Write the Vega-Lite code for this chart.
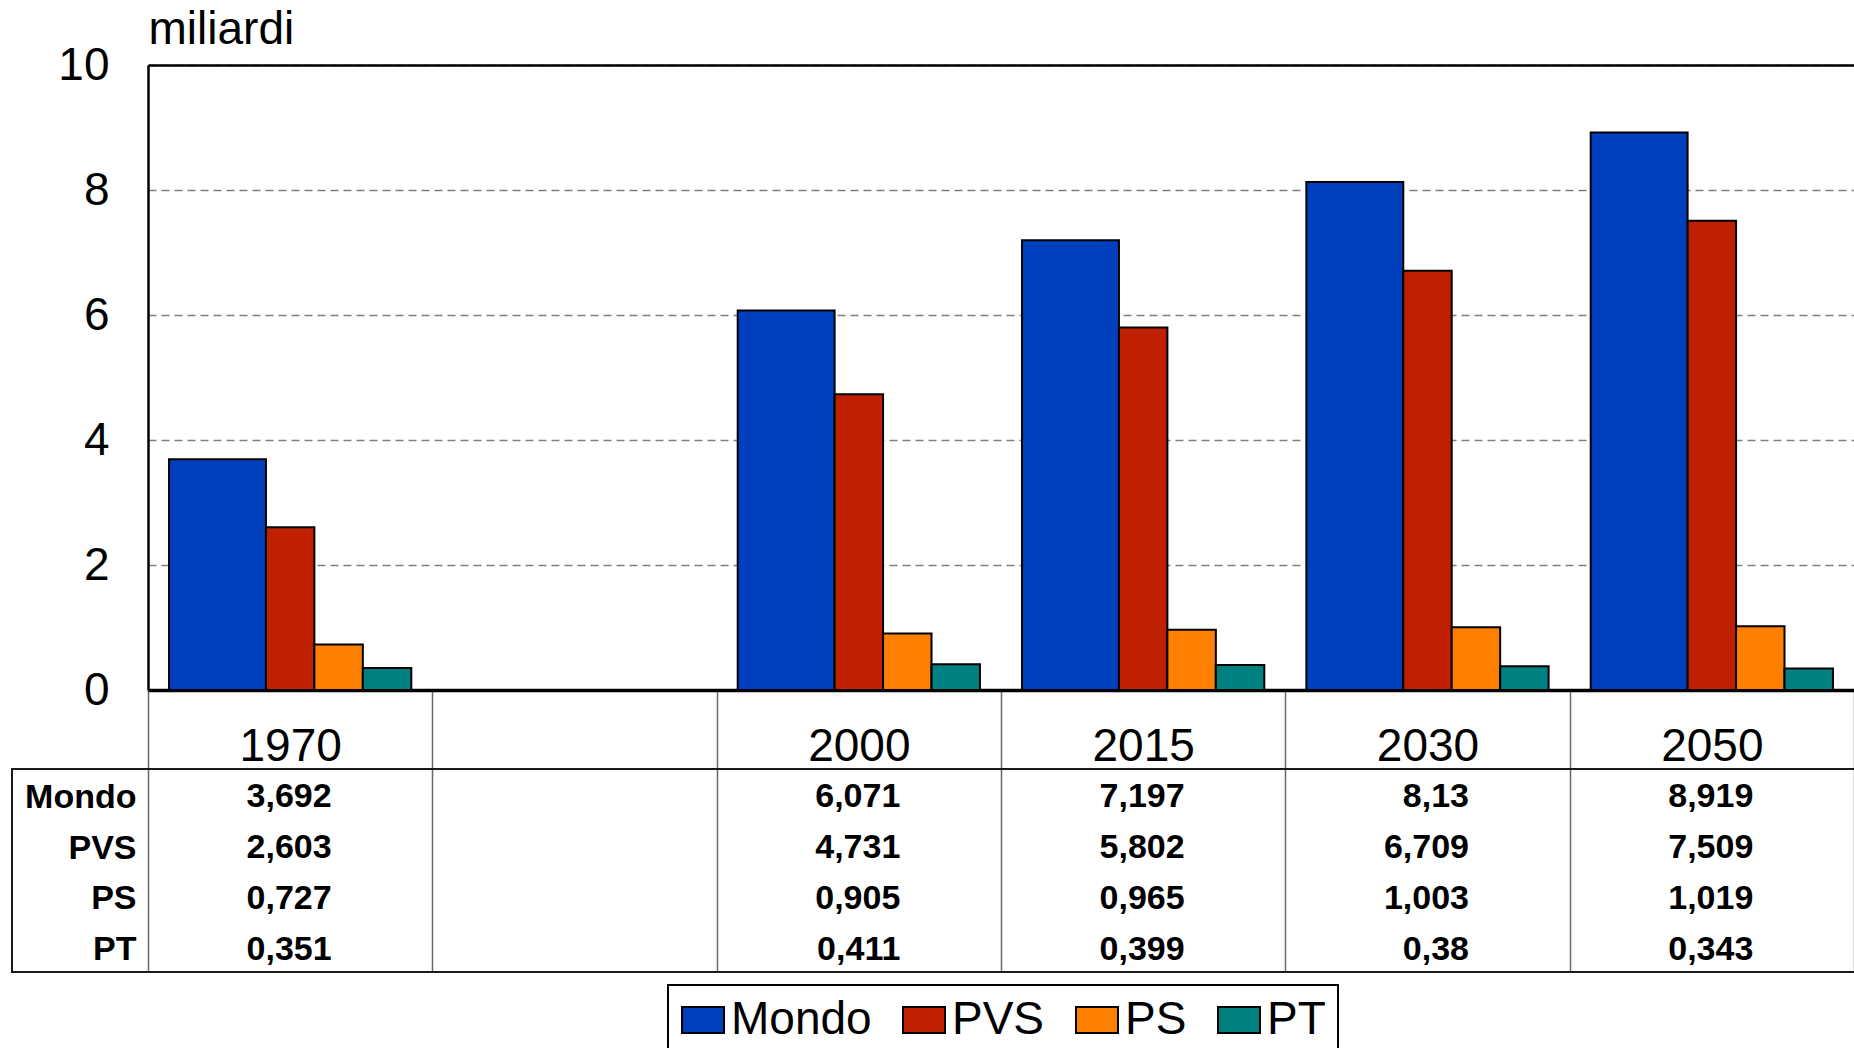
{
  "$schema": "https://vega.github.io/schema/vega-lite/v6.json",
  "width": 1706,
  "height": 625,
  "autosize": {"type": "none"},
  "padding": {"left": 148, "top": 65, "right": 0, "bottom": 358},
  "background": "white",
  "config": {
    "font": "Liberation Sans",
    "view": {"stroke": null},
    "legend": {"strokeWidth": 2},
    "locale": {"number": {"decimal": ",", "thousands": ".", "grouping": [3], "currency": ["", " €"]}}
  },
  "datasets": {
    "pop": [
      {"anno": "1970", "serie": "Mondo", "valore": 3.692},
      {"anno": "1970", "serie": "PVS", "valore": 2.603},
      {"anno": "1970", "serie": "PS", "valore": 0.727},
      {"anno": "1970", "serie": "PT", "valore": 0.351},
      {"anno": "2000", "serie": "Mondo", "valore": 6.071},
      {"anno": "2000", "serie": "PVS", "valore": 4.731},
      {"anno": "2000", "serie": "PS", "valore": 0.905},
      {"anno": "2000", "serie": "PT", "valore": 0.411},
      {"anno": "2015", "serie": "Mondo", "valore": 7.197},
      {"anno": "2015", "serie": "PVS", "valore": 5.802},
      {"anno": "2015", "serie": "PS", "valore": 0.965},
      {"anno": "2015", "serie": "PT", "valore": 0.399},
      {"anno": "2030", "serie": "Mondo", "valore": 8.13},
      {"anno": "2030", "serie": "PVS", "valore": 6.709},
      {"anno": "2030", "serie": "PS", "valore": 1.003},
      {"anno": "2030", "serie": "PT", "valore": 0.38},
      {"anno": "2050", "serie": "Mondo", "valore": 8.919},
      {"anno": "2050", "serie": "PVS", "valore": 7.509},
      {"anno": "2050", "serie": "PS", "valore": 1.019},
      {"anno": "2050", "serie": "PT", "valore": 0.343}
    ]
  },
  "layer": [
    {
      "data": {"name": "pop"},
      "encoding": {
        "x": {
          "field": "anno", "type": "nominal",
          "scale": {"domain": ["1970", " ", "2000", "2015", "2030", "2050"], "paddingInner": 0, "paddingOuter": 0},
          "axis": {
            "title": null, "orient": "bottom", "labelAngle": 0, "labelFontSize": 46, "labelColor": "black",
            "labelFont": "Liberation Sans", "labelBaseline": "alphabetic", "labelPadding": -212,
            "tickBand": "extent", "tickSize": 282, "tickColor": "#6a6a6a", "tickWidth": 1.5,
            "domainColor": "black", "domainWidth": 3.5, "grid": false, "labelOverlap": false
          }
        },
        "y": {
          "field": "valore", "type": "quantitative", "stack": null,
          "scale": {"domain": [0, 10], "nice": false},
          "axis": {
            "orient": "left", "title": "miliardi", "titleAngle": 0, "titleAlign": "left", "titleBaseline": "alphabetic",
            "titleX": 0, "titleY": -22, "titleFontSize": 46, "titleFontWeight": "normal", "titleColor": "black",
            "titleFont": "Liberation Sans", "labelFontSize": 46, "labelColor": "black", "labelPadding": 39,
            "ticks": false, "tickSize": 0, "domainColor": "black", "domainWidth": 2.5,
            "grid": true, "gridColor": "#808080", "gridDash": [8, 5], "gridWidth": 1.5,
            "values": [0, 2, 4, 6, 8, 10], "labelFlush": false
          }
        },
        "color": {
          "field": "serie", "type": "nominal",
          "scale": {"domain": ["Mondo", "PVS", "PS", "PT"], "range": ["#0040BF", "#BF2000", "#FF8000", "#008080"]},
          "legend": {
            "orient": "none", "legendX": 520, "legendY": 920, "direction": "horizontal", "title": null,
            "labelFontSize": 46, "labelColor": "black", "labelFont": "Liberation Sans", "labelLimit": 0,
            "symbolType": "M-1,-0.62H1V0.62H-1Z", "symbolSize": 1764, "symbolStrokeColor": "black",
            "symbolStrokeWidth": 2, "symbolOpacity": 1, "labelOffset": 5, "columnPadding": 27,
            "padding": 12, "strokeColor": "black", "fillColor": "white"
          }
        }
      },
      "layer": [
        {
          "transform": [{"filter": "datum.serie === 'Mondo'"}],
          "mark": {"type": "bar", "stroke": "black", "strokeWidth": 2, "opacity": 1},
          "encoding": {
            "xOffset": {
              "field": "serie", "type": "nominal",
              "scale": {"domain": ["Mondo", "resto"], "paddingInner": 0.33333, "paddingOuter": 0.1447}
            }
          }
        },
        {
          "transform": [{"filter": "datum.serie !== 'Mondo'"}],
          "mark": {"type": "bar", "stroke": "black", "strokeWidth": 2, "opacity": 1},
          "encoding": {
            "xOffset": {
              "field": "serie", "type": "nominal",
              "scale": {"domain": ["M1", "M2", "PVS", "PS", "PT"], "paddingInner": 0, "paddingOuter": 0.4344}
            }
          }
        }
      ],
      "resolve": {"scale": {"xOffset": "independent"}}
    },
    {
      "data": {"name": "pop"},
      "mark": {"type": "text", "align": "right", "baseline": "middle", "dx": 41.5, "fontSize": 34, "fontWeight": "bold", "color": "black"},
      "encoding": {
        "x": {
          "field": "anno", "type": "nominal",
          "scale": {"type": "point", "domain": ["1970", " ", "2000", "2015", "2030", "2050"], "padding": 0.5},
          "axis": {"orient": "top", "title": null, "labels": false, "ticks": false, "grid": false, "domain": true, "domainColor": "black", "domainWidth": 2.5}
        },
        "y": {
          "field": "serie", "type": "nominal",
          "scale": {"type": "point", "domain": ["Mondo", "PVS", "PS", "PT"], "range": [707, 910], "padding": 0.5},
          "axis": {
            "orient": "left", "title": null, "domain": false, "ticks": false, "tickSize": 0, "grid": false,
            "labelFontSize": 34, "labelFontWeight": "bold", "labelColor": "black", "labelPadding": 12,
            "labelAlign": "right", "labelBaseline": "middle"
          }
        },
        "text": {"field": "valore", "type": "quantitative", "format": ".3~f"}
      }
    },
    {
      "data": {"values": [{"t": "tabella"}]},
      "mark": {"type": "rect", "fill": "white", "fillOpacity": 0, "stroke": "#1a1a1a", "strokeWidth": 2},
      "encoding": {
        "x": {"field": "t", "type": "nominal", "scale": {"type": "band", "range": [-136, 1740], "paddingInner": 0, "paddingOuter": 0}, "axis": null},
        "y": {"field": "t", "type": "nominal", "scale": {"type": "band", "range": [704, 907], "paddingInner": 0, "paddingOuter": 0}, "axis": null}
      }
    }
  ],
  "resolve": {
    "scale": {"x": "independent", "y": "independent"},
    "axis": {"x": "independent", "y": "independent"}
  }
}
